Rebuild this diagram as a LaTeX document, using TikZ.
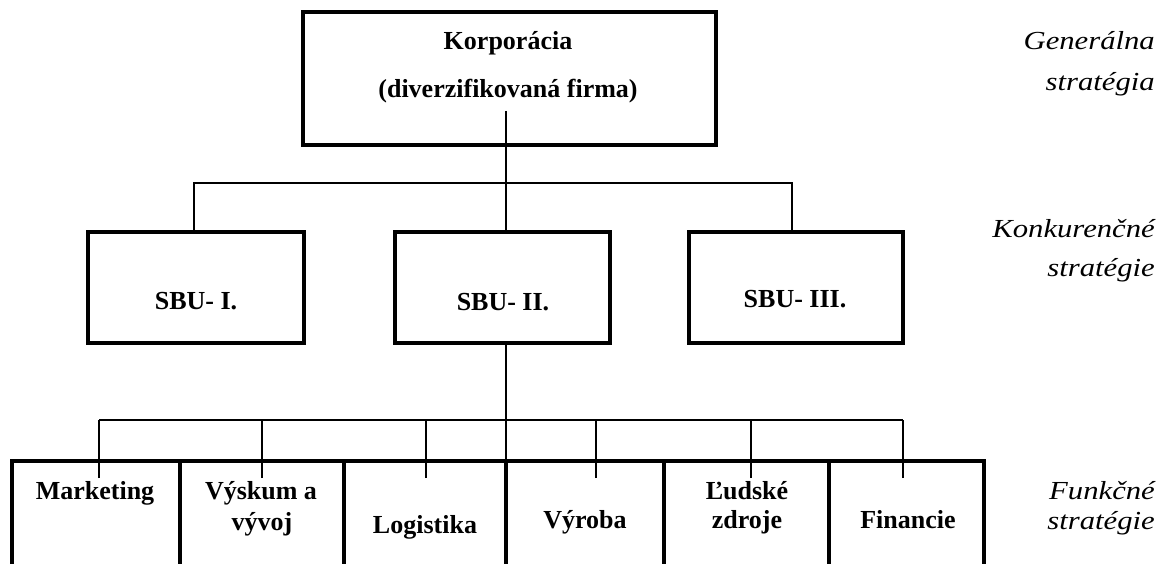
\documentclass[tikz,border=0pt]{standalone}
\usepackage{fontspec}
\setmainfont{Liberation Serif}
\newfontfamily\levelfont[FakeStretch=1.18]{Liberation Serif}
\usetikzlibrary{calc}

\tikzset{
  unitbox/.style={draw, line width=4pt, outer sep=0pt, inner sep=0pt, anchor=north west},
  conn/.style={line width=2pt},
  boxtext/.style={font=\fontsize{26}{31}\selectfont\bfseries, anchor=base, inner sep=0pt},
  leveltext/.style={font=\levelfont\itshape\fontsize{26}{31}\selectfont, anchor=base east, inner sep=0pt}
}

\begin{document}
\begin{tikzpicture}[x=1pt, y=-1pt]
\useasboundingbox (0,0) rectangle (1166,564);
\clip (0,0) rectangle (1166,564);

%% corporate level
\node[unitbox, minimum width=413pt, minimum height=133pt] (korp) at (303,12) {};
\node[boxtext] (korpA) at (508,50) {Korporácia};
\node[boxtext] (korpB) at (508,98) {(diverzifikovaná firma)};
\coordinate (kin) at (506,111);

%% business units
\node[unitbox, minimum width=216pt, minimum height=111pt] (sbuA) at (88,232) {};
\node[unitbox, minimum width=215pt, minimum height=111pt] (sbuB) at (395,232) {};
\node[unitbox, minimum width=214pt, minimum height=111pt] (sbuC) at (689,232) {};
\node[boxtext] (sbuAt) at (196,309) {SBU- I.};
\node[boxtext] (sbuBt) at (503,310) {SBU- II.};
\node[boxtext] (sbuCt) at (795,307) {SBU- III.};

\draw[conn] (kin) -- (kin |- sbuB.north);
\coordinate (sA) at ([xshift=-2pt]sbuA.north);
\coordinate (sC) at ([xshift=-4pt]sbuC.north);
\draw[conn] (sA) -- ++(0,-49) -| (sC);

%% functional level
\foreach \n/\x/\w in {mk/12/168, vv/180/164, lg/344/162, vy/506/158, lz/664/165, fn/829/155}
  \node[unitbox, minimum width=\w pt, minimum height=160pt] (\n) at (\x,461) {};

\coordinate (bbus) at (506,420);
\draw[conn] (sbuB.south -| bbus) -- (bbus |- vy.north);
\foreach \n/\dx in {mk/3, vv/0, lg/1, vy/11, lz/4.5, fn/-3.5}{
  \coordinate (d\n) at ([xshift=\dx pt]\n.north);
  \draw[conn] ([yshift=-17pt]d\n) -- (d\n |- bbus);
}
\draw[conn] (dmk |- bbus) -- (dfn |- bbus);

\node[boxtext] (mkT) at (95,499) {Marketing};
\node[boxtext] (vvT1) at (261,499) {Výskum a};
\node[boxtext] (vvT2) at (262,530) {vývoj};
\node[boxtext] (lgT) at (425,533) {Logistika};
\node[boxtext] (vyT) at (585,528) {Výroba};
\node[boxtext] (lzT1) at (747,499) {Ľudské};
\node[boxtext] (lzT2) at (747,528) {zdroje};
\node[boxtext] (fnT) at (908,528) {Financie};

%% strategy levels
\node[leveltext] (genA) at (1155,50) {Generálna};
\node[leveltext] (genB) at (1155,91) {stratégia};
\node[leveltext] (konA) at (1155,237) {Konkurenčné};
\node[leveltext] (konB) at (1155,276) {stratégie};
\node[leveltext] (funA) at (1155,499) {Funkčné};
\node[leveltext] (funB) at (1155,529) {stratégie};
\end{tikzpicture}
\end{document}
